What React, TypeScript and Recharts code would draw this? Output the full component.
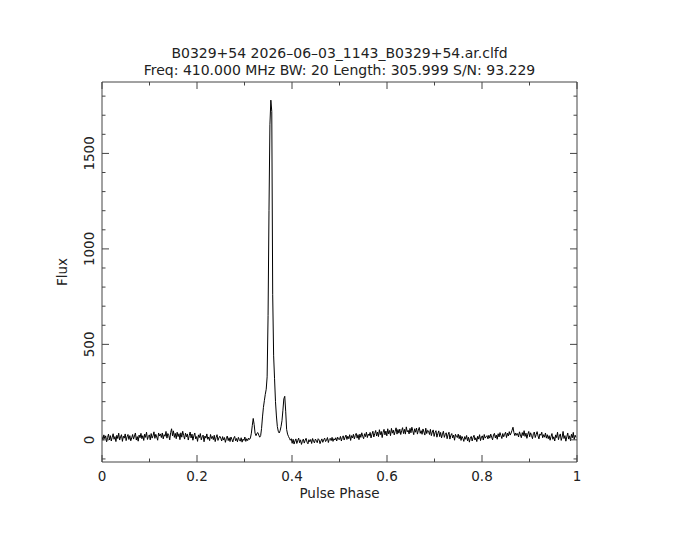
import React from "react";
import { LineChart, Line, XAxis, YAxis } from "recharts";

// pulse profile, 512 phase bins (one row = 32 bins)
const N_BINS = 512;
const fluxRows: number[][] = [
  [18, -2, 26, 6, 21, -10, 12, 30, 0, 22, -6, 14, 32, 3, 17, -9, 24, 7, 35, -1, 15, 27, -8, 19, 9, 31, -4, 16, 28, 2, 22, -5],
  [10, 28, 4, 20, 36, -1, 17, -7, 25, 11, 34, 6, 22, -3, 30, 13, 40, 2, 18, 26, 0, 33, 9, 21, 42, 8, 29, 15, -2, 36, 20, 31],
  [12, 36, 5, 27, 19, 44, 9, 33, 22, 0, 38, 58, 21, 47, 13, 34, 6, 40, 17, 32, 1, 37, 14, 45, 23, 4, 35, 16, 31, -1, 22, 41],
  [10, 30, -2, 21, 36, 5, 17, -8, 26, 12, 33, 0, 16, 25, -10, 20, 9, 31, 3, 15, -4, 28, 7, 18, 1, 24, -9, 13, 27, -3, 10, 19],
  [9, -6, 17, -1, 12, -13, 6, 20, -4, 11, -9, 15, 3, -11, 9, 18, -5, 7, -10, 13, 1, -7, 11, -12, 4, -3, 15, -8, 6, -4, 9, 2],
  [10, 35, 75, 112, 80, 35, 22, 34, 38, 25, 14, 22, 60, 120, 170, 205, 238, 265, 330, 650, 1200, 1650, 1779, 1720, 760, 440, 320, 200, 125, 70, 45, 36],
  [48, 70, 100, 155, 215, 228, 150, 55, 30, 18, 8, -2, 6, -18, 3, -22, -6, 5, -19, -3, 9, -15, 0, -24, -8, 4, -17, -2, 8, -12, -21, 1],
  [-10, 2, -19, 7, -7, -16, 4, -3, -15, 6, 0, -20, -6, 5, -13, 1, 9, -9, -2, 12, -14, 3, 8, -4, 13, -8, 6, -1, 11, -6, 14, 3],
  [2, 18, -6, 12, 21, -1, 14, 25, 2, 19, 6, 27, -3, 22, 10, 29, 5, 23, 34, 9, 27, 1, 30, 13, 37, 18, 6, 32, 17, 40, 12, 30],
  [22, 39, 10, 30, 45, 15, 33, 49, 20, 41, 17, 53, 27, 44, 12, 40, 55, 26, 46, 21, 58, 31, 49, 22, 60, 35, 51, 26, 45, 63, 30, 54],
  [35, 56, 28, 48, 64, 33, 55, 30, 68, 42, 50, 31, 60, 37, 66, 47, 27, 58, 40, 62, 30, 51, 65, 34, 48, 29, 57, 41, 25, 61, 33, 50],
  [46, 28, 55, 22, 41, 52, 18, 38, 48, 14, 33, 47, 17, 39, 10, 30, 45, 13, 28, 37, 6, 27, 40, 4, 24, 33, 10, 25, -2, 29, 18, 12],
  [30, 6, 24, -3, 18, 8, -8, 17, 3, 23, -5, 14, -12, 9, 18, -6, 13, 24, -1, 11, -9, 19, 4, 27, -4, 15, 21, -1, 28, 9, 16, 22],
  [5, 24, 9, 30, 14, 0, 26, 34, 10, 25, 3, 32, 15, 38, 22, 7, 33, 16, 29, 40, 12, 35, 20, 43, 25, 36, 50, 66, 38, 22, 36, 24],
  [33, 15, 42, 26, 11, 38, 22, 48, 18, 35, 8, 30, 44, 16, 37, 23, 6, 33, 41, 12, 28, 43, 20, 5, 31, 24, 40, 11, 27, 14, 36, 9],
  [27, 6, 22, -2, 17, 33, 3, 16, -6, 26, 12, 40, 1, 19, 31, -3, 14, 44, 7, 22, -7, 16, 36, 4, 21, -4, 29, 11, 39, 2, 24, 13],
];
const flux = fluxRows.flat();

const phaseTicks = [0, 0.1, 0.2, 0.3, 0.4, 0.5, 0.6, 0.7, 0.8, 0.9, 1];
const phaseLabels = [0, 0.2, 0.4, 0.6, 0.8, 1];
const fluxTicks = [-100, 0, 100, 200, 300, 400, 500, 600, 700, 800, 900, 1000, 1100, 1200, 1300, 1400, 1500, 1600, 1700, 1800];
const fluxLabels = [0, 500, 1000, 1500];

const titleLines = [
  "B0329+54 2026\u201306\u201303_1143_B0329+54.ar.clfd",
  "Freq: 410.000 MHz BW: 20 Length: 305.999 S/N: 93.229",
];
const xTitle = "Pulse Phase";
const yTitle = "Flux";

const data = flux.map((v, i) => ({ phase: i / N_BINS, flux: v }));

const FONT = "DejaVu Sans";
const FRAME = "#444";
const TEXT = "#222";
const MAJOR = 7;
const MINOR = 3.5;

const fmtPhase = (v: number) => (v === 0 || v === 1 ? String(v) : v.toFixed(1));

const BottomTick = ({ x, y, payload }: any) => {
  const major = phaseLabels.includes(payload.value);
  return (
    <g>
      <line x1={x} y1={y} x2={x} y2={y - (major ? MAJOR : MINOR)} stroke={FRAME} />
      {major && (
        <text x={x} y={y + 19} textAnchor="middle" fontFamily={FONT} fontSize={13.5} fill={TEXT}>
          {fmtPhase(payload.value)}
        </text>
      )}
    </g>
  );
};

const TopTick = ({ x, y, payload }: any) => {
  const major = phaseLabels.includes(payload.value);
  return <line x1={x} y1={y} x2={x} y2={y + (major ? MAJOR : MINOR)} stroke={FRAME} />;
};

const LeftTick = ({ x, y, payload }: any) => {
  const major = fluxLabels.includes(payload.value);
  const tx = x - 8;
  return (
    <g>
      <line x1={x} y1={y} x2={x + (major ? MAJOR : MINOR)} y2={y} stroke={FRAME} />
      {major && (
        <text
          x={tx}
          y={y}
          textAnchor="middle"
          transform={`rotate(-90, ${tx}, ${y})`}
          fontFamily={FONT}
          fontSize={13.5}
          fill={TEXT}
        >
          {payload.value}
        </text>
      )}
    </g>
  );
};

const RightTick = ({ x, y, payload }: any) => {
  const major = fluxLabels.includes(payload.value);
  return <line x1={x} y1={y} x2={x - (major ? MAJOR : MINOR)} y2={y} stroke={FRAME} />;
};

export default function App() {
  return (
    <div style={{ position: "absolute", left: 0, top: 0, width: 680, height: 544, background: "#fff" }}>
      <LineChart
        width={680}
        height={544}
        data={data}
        margin={{ top: 72, right: 93, bottom: 52, left: 62 }}
      >
        <XAxis
          xAxisId="bottom"
          type="number"
          dataKey="phase"
          domain={[0, 1]}
          allowDataOverflow
          ticks={phaseTicks}
          interval={0}
          height={30}
          tickSize={0}
          tickMargin={0}
          tickLine={false}
          axisLine={{ stroke: FRAME }}
          tick={(p: any) => <BottomTick {...p} />}
        />
        <XAxis
          xAxisId="top"
          orientation="top"
          type="number"
          dataKey="phase"
          domain={[0, 1]}
          allowDataOverflow
          ticks={phaseTicks}
          interval={0}
          height={10}
          tickSize={0}
          tickMargin={0}
          tickLine={false}
          axisLine={{ stroke: FRAME }}
          tick={(p: any) => <TopTick {...p} />}
        />
        <YAxis
          yAxisId="left"
          type="number"
          domain={[-116, 1874]}
          allowDataOverflow
          ticks={fluxTicks}
          interval={0}
          width={40}
          tickSize={0}
          tickMargin={0}
          tickLine={false}
          axisLine={{ stroke: FRAME }}
          tick={(p: any) => <LeftTick {...p} />}
        />
        <YAxis
          yAxisId="right"
          orientation="right"
          type="number"
          domain={[-116, 1874]}
          allowDataOverflow
          ticks={fluxTicks}
          interval={0}
          width={10}
          tickSize={0}
          tickMargin={0}
          tickLine={false}
          axisLine={{ stroke: FRAME }}
          tick={(p: any) => <RightTick {...p} />}
        />
        <Line
          xAxisId="top"
          yAxisId="right"
          dataKey="flux"
          stroke="none"
          dot={false}
          activeDot={false}
          isAnimationActive={false}
        />
        <Line
          xAxisId="bottom"
          yAxisId="left"
          type="linear"
          dataKey="flux"
          stroke="#000"
          strokeWidth={1}
          dot={false}
          activeDot={false}
          isAnimationActive={false}
        />
      </LineChart>
      <svg
        width={680}
        height={544}
        style={{ position: "absolute", left: 0, top: 0, pointerEvents: "none" }}
      >
        <text x={339.5} y={58} textAnchor="middle" fontFamily={FONT} fontSize={14} fill={TEXT}>
          {titleLines[0]}
        </text>
        <text x={339.5} y={75} textAnchor="middle" fontFamily={FONT} fontSize={14} fill={TEXT}>
          {titleLines[1]}
        </text>
        <text x={339.5} y={498} textAnchor="middle" fontFamily={FONT} fontSize={13.5} fill={TEXT}>
          {xTitle}
        </text>
        <text
          x={67}
          y={272}
          textAnchor="middle"
          transform="rotate(-90, 67, 272)"
          fontFamily={FONT}
          fontSize={13.5}
          fill={TEXT}
        >
          {yTitle}
        </text>
      </svg>
    </div>
  );
}
